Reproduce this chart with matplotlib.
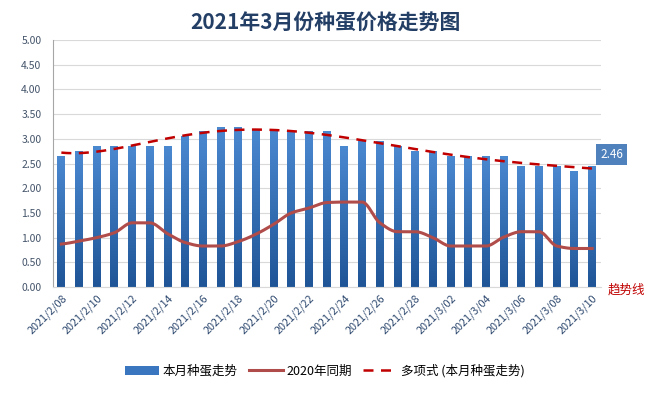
import matplotlib
matplotlib.use("Agg")
import matplotlib.pyplot as plt
import numpy as np
from matplotlib.colors import LinearSegmentedColormap

plt.rcParams['font.family'] = ['Noto Sans CJK SC', 'DejaVu Sans']

dates = ["2021/2/08", "2021/2/09", "2021/2/10", "2021/2/11", "2021/2/12", "2021/2/13",
         "2021/2/14", "2021/2/15", "2021/2/16", "2021/2/17", "2021/2/18", "2021/2/19",
         "2021/2/20", "2021/2/21", "2021/2/22", "2021/2/23", "2021/2/24", "2021/2/25",
         "2021/2/26", "2021/2/27", "2021/2/28", "2021/3/01", "2021/3/02", "2021/3/03",
         "2021/3/04", "2021/3/05", "2021/3/06", "2021/3/07", "2021/3/08", "2021/3/09",
         "2021/3/10"]
this_month = [2.65, 2.75, 2.85, 2.85, 2.85, 2.85, 2.85, 3.05, 3.15, 3.25, 3.25, 3.2,
              3.2, 3.15, 3.15, 3.15, 2.85, 2.95, 2.95, 2.85, 2.75, 2.75, 2.65, 2.65,
              2.65, 2.65, 2.45, 2.45, 2.45, 2.35, 2.46]
last_year = [0.87, 0.93, 1.0, 1.1, 1.3, 1.3, 1.08, 0.9, 0.83, 0.83, 0.92, 1.07,
             1.27, 1.5, 1.6, 1.71, 1.72, 1.72, 1.3, 1.12, 1.12, 1.0, 0.83, 0.83,
             0.83, 1.01, 1.12, 1.12, 0.83, 0.78, 0.78]

fig = plt.figure(figsize=(6.5, 3.93), dpi=100)
ax = fig.add_axes([0.0808, 0.2697, 0.8438, 0.6283])

x = np.arange(len(dates))
bars = ax.bar(x, this_month, width=0.45, color='#3A76C0', zorder=2, label='本月种蛋走势')

grad = np.linspace(1, 0, 256).reshape(-1, 1)
cmap = LinearSegmentedColormap.from_list('g', ['#1F5597', '#4A88D0'])
for b in bars:
    bx, by = b.get_x(), b.get_y()
    w, h = b.get_width(), b.get_height()
    im = ax.imshow(grad, extent=[bx, bx + w, by, by + h], cmap=cmap, aspect='auto',
                   zorder=2.1, origin='upper')
    im.set_clip_path(b)
    im.set_clim(0, 1)

def pchip(xp, yp, n=20):
    xp = np.asarray(xp, float); yp = np.asarray(yp, float)
    d = np.diff(yp) / np.diff(xp)
    m = np.zeros_like(yp)
    for i in range(1, len(yp) - 1):
        if d[i-1] * d[i] > 0:
            m[i] = 2 / (1 / d[i-1] + 1 / d[i])
    m[0], m[-1] = d[0] * 0.5, d[-1] * 0.5
    px, py = [], []
    for i in range(len(xp) - 1):
        hh = xp[i+1] - xp[i]
        for t in np.linspace(0, 1, n, endpoint=False):
            h00 = 2*t**3 - 3*t**2 + 1
            h10 = t**3 - 2*t**2 + t
            h01 = -2*t**3 + 3*t**2
            h11 = t**3 - t**2
            px.append(xp[i] + t * hh)
            py.append(h00*yp[i] + h10*hh*m[i] + h01*yp[i+1] + h11*hh*m[i+1])
    px.append(xp[-1]); py.append(yp[-1])
    return px, py
sx, sy = pchip(x, last_year)
ax.plot(sx, sy, color='#B04C4A', lw=2.2, zorder=3, label='2020年同期')

coef = np.polyfit(x, this_month, 6)
tx = np.linspace(0, len(x) - 1, 300)
ax.plot(tx, np.polyval(coef, tx), color='#C00000', lw=1.8, ls=(0, (4, 3)), zorder=4,
        label='多项式 (本月种蛋走势)')

ax.set_ylim(0, 5)
ax.set_xlim(-0.5, 30.5)
ax.set_yticks(np.arange(0, 5.01, 0.5))
ax.set_yticklabels([f"{v:.2f}" for v in np.arange(0, 5.01, 0.5)], fontsize=7.5, color='#44546A')
ax.set_xticks(x[::2])
ax.set_xticklabels(dates[::2], rotation=45, ha='right', rotation_mode='anchor',
                   fontsize=7.8, color='#2F4A70')
ax.tick_params(axis='y', length=0, pad=8)
ax.tick_params(axis='x', length=0, pad=4)
ax.grid(axis='y', color='#D9D9D9', lw=0.8, zorder=0)
for s in ['top', 'right']:
    ax.spines[s].set_visible(False)
ax.spines['left'].set_color('#A6A6A6')
ax.spines['bottom'].set_color('#D9D9D9')

ax.annotate(f"{this_month[-1]:.2f}", xy=(x[-1], this_month[-1]), xytext=(6, 8),
            textcoords='offset points', fontsize=8.5, color='white', va='center', ha='left',
            bbox=dict(boxstyle='square,pad=0.35', fc='#4F81BD', ec='none'))
fig.text(0.963, 0.261, '趋势线', color='#C00000', fontsize=9, ha='center', va='center')

fig.text(0.5, 0.94, '2021年3月份种蛋价格走势图', fontsize=15, fontweight='bold',
         color='#243F66', ha='center', va='center')

h, l = ax.get_legend_handles_labels()
order = [l.index('本月种蛋走势'), l.index('2020年同期'), l.index('多项式 (本月种蛋走势)')]
fig.legend([h[i] for i in order], [l[i] for i in order], loc='center',
           bbox_to_anchor=(0.5, 0.056), ncol=3, frameon=False,
           fontsize=9, handlelength=2.7, columnspacing=0.9, handletextpad=0.3)

fig.savefig('out.png', dpi=100)
